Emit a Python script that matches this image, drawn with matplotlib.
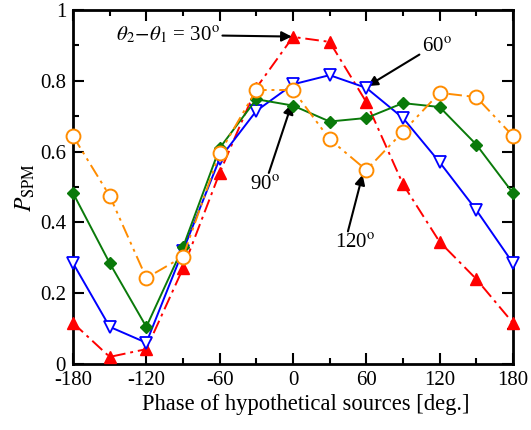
import numpy as np
import matplotlib
matplotlib.use('Agg')
import matplotlib.pyplot as plt
from matplotlib.ticker import MultipleLocator

plt.rcParams['font.family'] = 'Liberation Serif'
plt.rcParams['mathtext.fontset'] = 'stix'
plt.rcParams['axes.unicode_minus'] = False

# phase of hypothetical sources [deg.]
phase = [-180, -150, -120, -90, -60, -30, 0, 30, 60, 90, 120, 150, 180]
# P_SPM for theta2 - theta1 = 30, 60, 90, 120 deg
p30 = [0.116, 0.02, 0.042, 0.27, 0.54, 0.78, 0.924, 0.91, 0.74, 0.508, 0.345, 0.24, 0.116]
p60 = [0.285, 0.105, 0.06, 0.32, 0.58, 0.715, 0.79, 0.816, 0.78, 0.695, 0.57, 0.435, 0.285]
p90 = [0.483, 0.285, 0.105, 0.33, 0.61, 0.748, 0.73, 0.685, 0.695, 0.737, 0.726, 0.62, 0.483]
p120 = [0.644, 0.475, 0.243, 0.303, 0.596, 0.774, 0.774, 0.635, 0.548, 0.656, 0.766, 0.754, 0.644]

fig = plt.figure(figsize=(5.31, 4.30), dpi=100)
ax = fig.add_axes([0.1375, 0.1535, 0.8285, 0.8232])

lw = 1.4
ax.plot(phase, p30, color='#ff0000', lw=lw, dashes=[7, 2.5, 1.5, 2.5], marker='^', ms=8,
        mfc='#ff0000', mec='#ff0000', clip_on=False, zorder=3)
ax.plot(phase, p60, color='#0000ff', lw=lw, ls='-', marker='v', ms=8,
        mfc='white', mec='#0000ff', mew=1.3, clip_on=False, zorder=4)
ax.plot(phase, p90, color='#0a7a0a', lw=lw, ls='-', marker='D', ms=6.5,
        mfc='#0a7a0a', mec='#0a7a0a', clip_on=False, zorder=5)
ax.plot(phase, p120, color='#ff8c00', lw=lw, dashes=[7, 2.5, 1.5, 2.5, 1.5, 2.5], marker='o', ms=10,
        mfc='white', mec='#ff8c00', mew=1.4, clip_on=False, zorder=6)

ax.set_xlim(-180, 180)
ax.set_ylim(0, 1)
ax.xaxis.set_major_locator(MultipleLocator(60))
ax.xaxis.set_minor_locator(MultipleLocator(30))
ax.yaxis.set_major_locator(MultipleLocator(0.2))
ax.yaxis.set_minor_locator(MultipleLocator(0.1))
ax.set_yticks([0, 0.2, 0.4, 0.6, 0.8, 1])
ax.set_yticklabels(['0', '0.2', '0.4', '0.6', '0.8', '1'])
ax.tick_params(which='both', direction='in', top=True, right=True, labelsize=15, width=1.5)
ax.tick_params(which='major', length=8, pad=5)
ax.tick_params(which='minor', length=4)
for s in ax.spines.values():
    s.set_linewidth(2)

ax.set_xlabel('Phase of hypothetical sources [deg.]', fontsize=16.3, labelpad=4)
ax.xaxis.set_label_coords(0.53, -0.085)
ax.set_ylabel(r'$P_{\rm SPM}$', fontsize=17, labelpad=2)

aprops = dict(arrowstyle='-|>', color='black', lw=1.5, mutation_scale=15, shrinkA=0, shrinkB=0)
ax.annotate(r'$\theta_2\!-\!\theta_1$ = 30$^{\rm o}$', xy=(-1, 0.925), xytext=(-60, 0.93),
            fontsize=15, ha='right', va='center', arrowprops=aprops)
ax.annotate(r'60$^{\rm o}$', xy=(61, 0.785), xytext=(118, 0.895),
            fontsize=15, ha='center', va='center', arrowprops=dict(aprops, relpos=(0, 0.2)))
ax.annotate(r'90$^{\rm o}$', xy=(-1, 0.735), xytext=(-23, 0.505),
            fontsize=15, ha='center', va='center', arrowprops=dict(aprops, relpos=(0.6, 1)))
ax.annotate(r'120$^{\rm o}$', xy=(57, 0.535), xytext=(51, 0.34),
            fontsize=15, ha='center', va='center', arrowprops=dict(aprops, relpos=(0.3, 1)))

fig.savefig('out.png', dpi=100)
